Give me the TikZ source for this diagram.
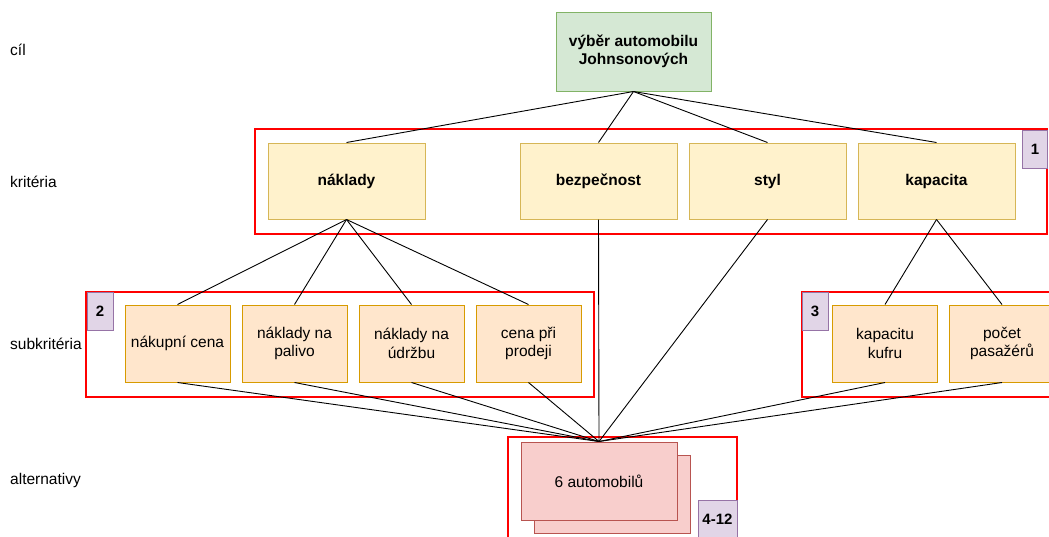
\documentclass[tikz,border=0pt]{standalone}
\usepackage{fontspec}
\setmainfont{Liberation Sans}
\usetikzlibrary{positioning}
\definecolor{cilfill}{HTML}{D5E8D4}
\definecolor{cildraw}{HTML}{82B366}
\definecolor{kritfill}{HTML}{FFF2CC}
\definecolor{kritdraw}{HTML}{D6B656}
\definecolor{subfill}{HTML}{FFE6CC}
\definecolor{subdraw}{HTML}{D79B00}
\definecolor{altfill}{HTML}{F8CECC}
\definecolor{altdraw}{HTML}{B85450}
\definecolor{cislofill}{HTML}{E1D5E7}
\definecolor{cislodraw}{HTML}{9673A6}
\begin{document}
\begin{tikzpicture}[x=1pt, y=-1pt,
		every node/.style={font=\fontsize{15.5}{18.5}\selectfont, align=center, inner sep=0pt},
		cil/.style={draw=cildraw, fill=cilfill, line width=1pt, minimum width=155pt, minimum height=79pt, font=\fontsize{15.5}{18.5}\selectfont\bfseries},
		krit/.style={draw=kritdraw, fill=kritfill, line width=1pt, minimum width=157pt, minimum height=76pt, font=\fontsize{15.5}{18.5}\selectfont\bfseries},
		subkrit/.style={draw=subdraw, fill=subfill, line width=1pt, minimum width=105pt, minimum height=77pt},
		alt/.style={draw=altdraw, fill=altfill, line width=1pt, minimum width=156pt, minimum height=78pt},
		cislo/.style={draw=cislodraw, fill=cislofill, line width=1pt, minimum height=38pt, font=\fontsize{15}{18}\selectfont\bfseries},
		ramec/.style={draw=red, line width=2pt},
		hrana/.style={draw=black, line width=0.9pt}]
				\useasboundingbox (0,0) rectangle (1049,536);
				\draw[ramec] (255,129) rectangle (1047,234);
				\draw[ramec] (86,292) rectangle (594,397);
				\draw[ramec] (802,292) rectangle (1070,397);
				\draw[ramec] (508,437) rectangle (737,560);
				\node[anchor=west] (ucil) at (10,50) {cíl};
				\node[anchor=west] (ukrit) at (10,182) {kritéria};
				\node[anchor=west] (usub) at (10,344) {subkritéria};
				\node[anchor=west] (ualt) at (10,480) {alternativy};
				\node[cil] (vyber) at (633.5,51.5) {výběr automobilu\\Johnsonových};
				\node[krit] (naklady) at (346.5,181) {náklady};
				\node[krit] (bezpecnost) at (598.5,181) {bezpečnost};
				\node[krit] (styl) at (767.5,181) {styl};
				\node[krit] (kapacita) at (936.5,181) {kapacita};
				\node[subkrit] (nakupni) at (177.5,343.5) {nákupní cena};
				\node[subkrit] (palivo) at (294.5,343.5) {náklady na\\palivo};
				\node[subkrit] (udrzba) at (411.5,343.5) {náklady na\\údržbu};
				\node[subkrit] (prodej) at (528.5,343.5) {cena při\\prodeji};
				\node[subkrit] (kufr) at (885,343.5) {kapacitu\\kufru};
				\node[subkrit] (pasazeri) at (1002,343.5) {počet\\pasažérů};
				\node[alt] (auta2) at (612,494) {};
				\node[alt] (auta) at (599,481) {6 automobilů};
				\node[cislo, minimum width=25pt] (c1) at (1035,149) {1};
				\node[cislo, minimum width=26pt] (c2) at (100,311) {2};
				\node[cislo, minimum width=26pt] (c3) at (815,311.5) {3};
				\node[cislo, minimum width=39pt] (c4) at (717.5,519) {4-12};
				\foreach \k in {naklady,bezpecnost,styl,kapacita}
					\draw[hrana] (vyber.south) -- (\k.north);
				\foreach \s in {nakupni,palivo,udrzba,prodej}
					\draw[hrana] (naklady.south) -- (\s.north);
				\draw[hrana] (kapacita.south) -- (kufr.north);
				\draw[hrana] (kapacita.south) -- (pasazeri.north);
				\foreach \s in {nakupni,palivo,udrzba,prodej,kufr,pasazeri,bezpecnost,styl}
					\draw[hrana] (\s.south) -- (auta.north);
			\end{tikzpicture}
\end{document}
